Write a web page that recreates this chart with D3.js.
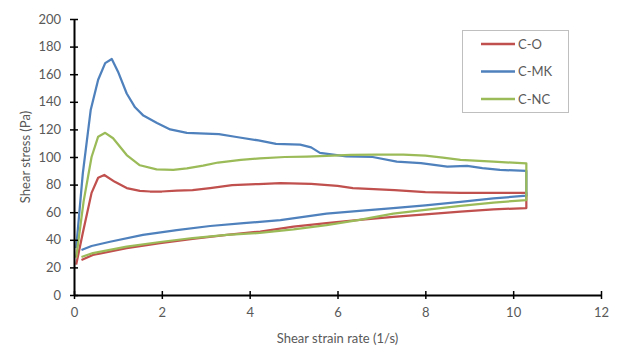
<!DOCTYPE html>
<html>
<head>
<meta charset="utf-8">
<script src="https://cdn.jsdelivr.net/npm/d3@7"></script>
<style>
  body { margin: 0; background: #fff; }
  text { font-family: Lato, "Open Sans", sans-serif; }
</style>
</head>
<body>
<div id="chart"></div>
<script>
// series names and colours
const seriesNames = ["C-O", "C-MK", "C-NC"];
const seriesColors = ["#C0504D", "#4F81BD", "#9BBB59"];

// C-O: up branch then down branch (shear rate, stress)
const coRate = [0.05, 0.2, 0.4, 0.55, 0.69, 0.93, 1.2, 1.5, 1.73, 2.0, 2.34, 2.7, 3.1, 3.6, 4.2, 4.7, 5.4, 6.0, 6.35, 7.3, 8.0, 8.8, 9.5, 10.3,
                10.3, 9.55, 8.8, 8.0, 7.27, 6.5, 5.75, 5.0, 4.24, 3.48, 2.7, 1.96, 1.2, 0.43, 0.17];
const coStress = [22, 45, 74, 85, 87, 82, 77.5, 75.5, 75, 75, 75.6, 76, 77.5, 79.7, 80.4, 81, 80.5, 79, 77.5, 76, 74.5, 74, 74, 74,
                  63, 62, 60.4, 58.5, 56.7, 54.5, 52, 49.5, 46, 43.5, 40.6, 37.6, 34, 29, 25.4];

// C-MK
const mkRate = [0.05, 0.2, 0.38, 0.55, 0.71, 0.86, 1.0, 1.2, 1.39, 1.58, 1.89, 2.19, 2.57, 3.0, 3.3, 3.7, 4.2, 4.6, 5.15, 5.4, 5.6, 6.2, 6.8, 7.35, 7.9, 8.5, 8.95, 9.3, 9.7, 10.3,
                10.3, 9.55, 8.8, 8.0, 7.27, 6.5, 5.75, 4.7, 4.23, 3.86, 3.1, 2.34, 1.57, 0.82, 0.4, 0.17];
const mkStress = [34, 88, 134, 156, 168, 171, 162, 146, 136, 130, 124.6, 120, 117.5, 117, 116.5, 114.5, 112, 109.5, 109, 107, 103, 100.5, 100, 96.6, 95.6, 93, 93.5, 92, 90.6, 90,
                  72, 70, 67.4, 65, 63, 61, 59, 54.3, 53, 52, 50, 47, 43.5, 38.6, 35.5, 32.6];

// C-NC
const ncRate = [0.05, 0.22, 0.4, 0.55, 0.71, 0.89, 1.2, 1.5, 1.88, 2.26, 2.57, 2.94, 3.28, 3.8, 4.23, 4.8, 5.3, 5.75, 6.3, 6.9, 7.5, 8.0, 8.4, 8.8, 9.55, 10.3,
                10.3, 9.55, 8.8, 8.0, 7.27, 6.5, 5.75, 5.0, 4.23, 3.48, 2.7, 1.96, 1.2, 0.43, 0.17];
const ncStress = [27, 68, 100, 114.7, 117.5, 113.6, 101.4, 94, 91, 90.6, 91.8, 93.7, 96, 98, 99, 100, 100.3, 100.8, 101.5, 101.7, 101.7, 101, 99.5, 98, 96.6, 95.4,
                  68.8, 67, 64.5, 61.6, 59, 54.5, 50.7, 47.5, 45, 43.5, 41.3, 38.4, 35, 30.4, 27.5];

const xTicks = [0, 2, 4, 6, 8, 10, 12];
const yTicks = [0, 20, 40, 60, 80, 100, 120, 140, 160, 180, 200];

const W = 618, H = 349;
const margin = {top: 19, right: 17, bottom: 54, left: 74};
const width = W - margin.left - margin.right,
      height = H - margin.top - margin.bottom;

const svg = d3.select("#chart").append("svg")
    .attr("width", W)
    .attr("height", H);

const g = svg.append("g")
    .attr("transform", "translate(" + margin.left + "," + margin.top + ")");

const x = d3.scaleLinear().domain([0, 12]).range([0, width]);
const y = d3.scaleLinear().domain([0, 200]).range([height, 0]);

// series data
const allSeries = [
    coRate.map((r, i) => [r, coStress[i]]),
    mkRate.map((r, i) => [r, mkStress[i]]),
    ncRate.map((r, i) => [r, ncStress[i]])
];

const line = d3.line()
    .x(d => x(d[0]))
    .y(d => y(d[1]));

// draw lines
allSeries.forEach(function(s, i) {
    g.append("path")
        .datum(s)
        .attr("fill", "none")
        .attr("stroke", seriesColors[i])
        .attr("stroke-width", 2.25)
        .attr("stroke-linejoin", "round")
        .attr("d", line);
});

// Y axis
const yAxis = g.append("g")
    .call(d3.axisLeft(y).tickValues(yTicks).tickSizeInner(4).tickSizeOuter(0).tickPadding(10));
yAxis.select(".domain").attr("stroke", "#000").attr("stroke-width", 2);
yAxis.selectAll(".tick line").attr("stroke", "#000").attr("stroke-width", 1.5).attr("x2", 4).attr("x1", -4);
yAxis.selectAll(".tick text").attr("fill", "#595959").style("font-size", "13px")
    .attr("x", -13);

// X axis
const xAxis = g.append("g")
    .attr("transform", "translate(0," + height + ")")
    .call(d3.axisBottom(x).tickValues(xTicks).tickSizeInner(4).tickSizeOuter(0).tickPadding(10));
xAxis.select(".domain").attr("stroke", "#000").attr("stroke-width", 2);
xAxis.selectAll(".tick line").attr("stroke", "#000").attr("stroke-width", 1.5).attr("y1", -4).attr("y2", 4);
xAxis.selectAll(".tick text").attr("fill", "#595959").style("font-size", "13px")
    .attr("y", 13);

// axis titles
svg.append("text")
    .attr("x", margin.left + width / 2)
    .attr("y", 343)
    .attr("text-anchor", "middle")
    .attr("fill", "#595959")
    .style("font-size", "13px")
    .text("Shear strain rate (1/s)");

svg.append("text")
    .attr("transform", "translate(30," + (margin.top + height / 2) + ") rotate(-90)")
    .attr("text-anchor", "middle")
    .attr("fill", "#595959")
    .style("font-size", "13px")
    .text("Shear stress (Pa)");

// legend
const legend = svg.append("g");
legend.append("rect")
    .attr("x", 462.5).attr("y", 30.5)
    .attr("width", 106).attr("height", 82)
    .attr("fill", "#fff")
    .attr("stroke", "#bfbfbf");

seriesNames.forEach(function(name, i) {
    const ly = 44 + i * 27.5;
    legend.append("line")
        .attr("x1", 481).attr("x2", 515)
        .attr("y1", ly).attr("y2", ly)
        .attr("stroke", seriesColors[i])
        .attr("stroke-width", 2.5);
    legend.append("text")
        .attr("x", 518).attr("y", ly)
        .attr("dy", "0.35em")
        .attr("fill", "#595959")
        .style("font-size", "13px")
        .text(name);
});
</script>
</body>
</html>
